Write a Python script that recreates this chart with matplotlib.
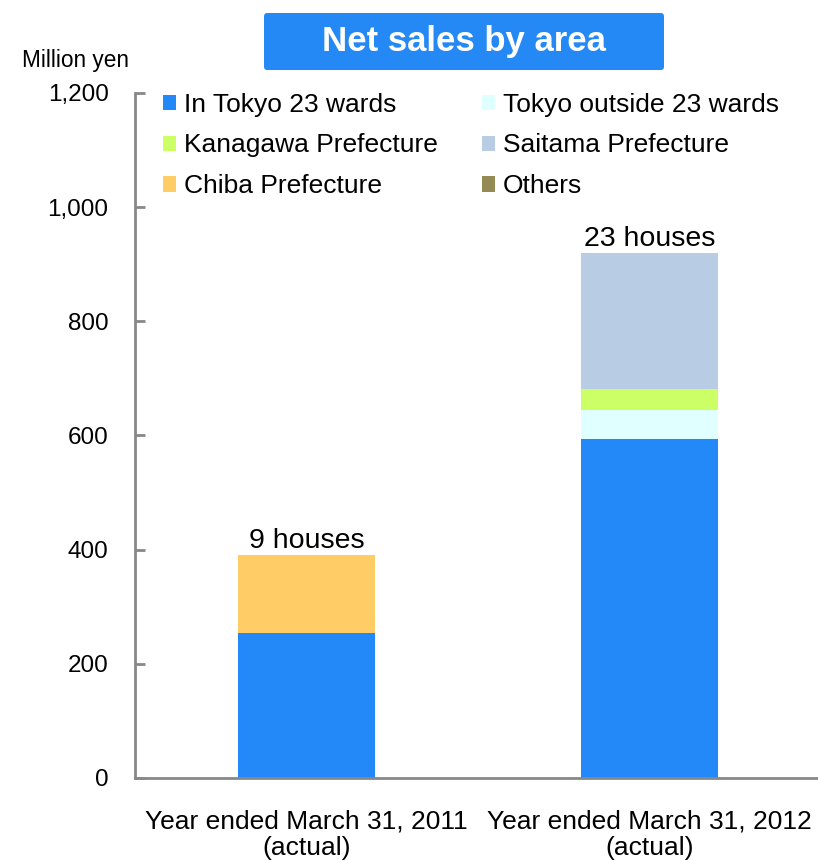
import numpy as np
import matplotlib
matplotlib.use('Agg')
import matplotlib.pyplot as plt
from matplotlib.patches import FancyBboxPatch

plt.rcParams['font.family'] = ['Liberation Sans', 'DejaVu Sans']

# data (million yen)
years = ['Year ended March 31, 2011\n(actual)', 'Year ended March 31, 2012\n(actual)']
areas = ['In Tokyo 23 wards', 'Tokyo outside 23 wards', 'Kanagawa Prefecture',
         'Saitama Prefecture', 'Chiba Prefecture', 'Others']
tokyo23 = [254, 593]
tokyo_out = [0, 52]
kanagawa = [0, 37]
saitama = [0, 238]
chiba = [136, 0]
others = [0, 0]
houses = ['9 houses', '23 houses']

colors = ['#2388F8', '#E0FFFF', '#CCFF66', '#B8CCE4', '#FFCC66', '#948A54']

fig = plt.figure(figsize=(8.18, 8.61), dpi=100)
ax = fig.add_axes([135 / 818, 1 - 778 / 861, 1 - 135 / 818, 685 / 861])

x = np.arange(len(years))
bottom = np.zeros(len(years))
for name, vals, c in zip(areas, [tokyo23, tokyo_out, kanagawa, saitama, chiba, others], colors):
    ax.bar(x, vals, 0.40, bottom=bottom, color=c, label=name)
    bottom += np.array(vals)

for xi, total, lab in zip(x, bottom, houses):
    ax.text(xi, total + 2, lab, ha='center', va='bottom', fontsize=20.5)

ax.set_xlim(-0.5, 1.49)
ax.set_ylim(0, 1200)
ax.set_yticks(range(0, 1201, 200))
ax.set_yticklabels([f'{v:,}' for v in range(0, 1201, 200)], fontsize=17.5)
ax.set_xticks(x)
ax.set_xticklabels(years, fontsize=19, linespacing=1.12)
ax.tick_params(axis='x', length=0, pad=23)
ax.tick_params(axis='y', length=7, color='#888888', direction='in', pad=19, width=2)
for s in ['top', 'right']:
    ax.spines[s].set_visible(False)
for s in ['left', 'bottom']:
    ax.spines[s].set_color('#888888')
    ax.spines[s].set_linewidth(2)

# legend filled row by row
h, l = ax.get_legend_handles_labels()
order = [0, 2, 4, 1, 3, 5]
ax.legend([h[i] for i in order], [l[i] for i in order], ncol=2, loc='upper left',
          bbox_to_anchor=(0.025, 1.016), frameon=False,
          fontsize=19, handlelength=0.5, handleheight=0.5, handletextpad=0.3,
          columnspacing=1.68, labelspacing=0.64, borderaxespad=0)

fig.text(22 / 818, 1 - 61 / 861, 'Million yen', fontsize=16.3, ha='left', va='center')
box = FancyBboxPatch((264 / 818, 1 - 70 / 861), 400 / 818, 57 / 861,
                     boxstyle='round,pad=0,rounding_size=0.004',
                     transform=fig.transFigure, facecolor='#2589F5', edgecolor='none')
fig.patches.append(box)
fig.text(464 / 818, 1 - 42 / 861, 'Net sales by area', fontsize=25, fontweight='bold',
         color='white', ha='center', va='center')

fig.savefig('out.png', dpi=100)
